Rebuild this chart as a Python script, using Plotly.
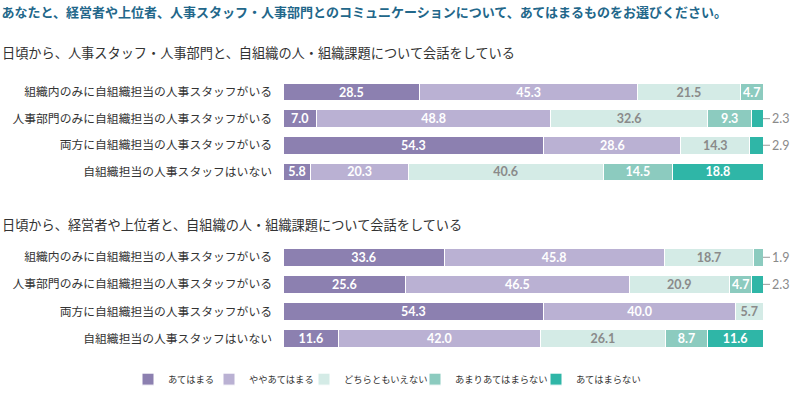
import plotly.graph_objects as go

title_text = "あなたと、経営者や上位者、人事スタッフ・人事部門とのコミュニケーションについて、あてはまるものをお選びください。"
group_titles = [
    "日頃から、人事スタッフ・人事部門と、自組織の人・組織課題について会話をしている",
    "日頃から、経営者や上位者と、自組織の人・組織課題について会話をしている",
]
categories = [
    "組織内のみに自組織担当の人事スタッフがいる",
    "人事部門のみに自組織担当の人事スタッフがいる",
    "両方に自組織担当の人事スタッフがいる",
    "自組織担当の人事スタッフはいない",
]
series_names = ["あてはまる", "ややあてはまる", "どちらともいえない", "あまりあてはまらない", "あてはまらない"]

# Group 1: HR staff / HR department
hr_agree = [28.5, 7.0, 54.3, 5.8]
hr_somewhat = [45.3, 48.8, 28.6, 20.3]
hr_neutral = [21.5, 32.6, 14.3, 40.6]
hr_not_much = [4.7, 9.3, 0.0, 14.5]
hr_disagree = [0.0, 2.3, 2.9, 18.8]

# Group 2: management / superiors
mg_agree = [33.6, 25.6, 54.3, 11.6]
mg_somewhat = [45.8, 46.5, 40.0, 42.0]
mg_neutral = [18.7, 20.9, 5.7, 26.1]
mg_not_much = [1.9, 4.7, 0.0, 8.7]
mg_disagree = [0.0, 2.3, 0.0, 11.6]

colors = ["#8c80b0", "#bab1d3", "#d4ebe6", "#8ccbbf", "#2fb6a7"]
text_colors = ["white", "white", "#8a8a8a", "white", "white"]

groups = [
    [hr_agree, hr_somewhat, hr_neutral, hr_not_much, hr_disagree],
    [mg_agree, mg_somewhat, mg_neutral, mg_not_much, mg_disagree],
]

FONT = "Noto Sans CJK JP"
NUM_FONT = "Lato"
W, H = 790, 394
INSIDE_MIN = 4.0

# legend swatch left edges (px) and vertical centre
legend_swatch_px = [144, 225, 320, 431, 552]
legend_y_px = 385

fig = go.Figure()
axis_ids = [("x", "y"), ("x2", "y2")]
legend_ids = ["legend", "legend2", "legend3", "legend4", "legend5"]

for gi, series in enumerate(groups):
    xa, ya = axis_ids[gi]
    for si, vals in enumerate(series):
        texts = [f"{v:.1f}" if v >= INSIDE_MIN else "" for v in vals]
        fig.add_trace(go.Bar(
            x=vals, y=categories, orientation="h",
            name=series_names[si],
            marker=dict(color=colors[si], line=dict(color="white", width=1)),
            text=texts, textposition="inside", insidetextanchor="middle",
            textangle=0,
            textfont=dict(family=NUM_FONT, size=12.5, color=text_colors[si], weight="bold"),
            xaxis=xa, yaxis=ya,
            showlegend=(gi == 0), legend=legend_ids[si], legendgroup=series_names[si],
            hoverinfo="skip",
        ))
    # outside labels for small trailing segments
    for ri in range(len(categories)):
        row = [s[ri] for s in series]
        total = sum(row)
        nz = [v for v in row if v > 0]
        last = nz[-1]
        if last < INSIDE_MIN:
            end = min(total, 100.0)
            fig.add_annotation(xref=xa, yref=ya, x=end, y=ri,
                               text=f"{last:.1f}", showarrow=True,
                               arrowhead=0, arrowwidth=1, arrowcolor="#9a9a9a",
                               ax=7, ay=0, standoff=0,
                               xanchor="left", yanchor="middle",
                               font=dict(family=NUM_FONT, size=12.5, color="#8a8a8a"))

x_dom = [283 / W, 763 / W]
g1_dom = [1 - 188.0 / H, 1 - 80.0 / H]
g2_dom = [1 - 357.5 / H, 1 - 247.5 / H]

axis_common_x = dict(range=[0, 100], showticklabels=False, showgrid=False,
                     zeroline=False, showline=False, fixedrange=True)
axis_common_y = dict(autorange="reversed", showgrid=False, zeroline=False,
                     showline=False, ticks="", ticklabelstandoff=10, fixedrange=True,
                     tickfont=dict(family=FONT, size=11.8, color="#333333"))

legend_layout = {}
for li, lid in enumerate(legend_ids):
    legend_layout[lid] = dict(
        orientation="h", x=(legend_swatch_px[li] - 16) / W, xanchor="left",
        y=1 - legend_y_px / H, yanchor="middle",
        font=dict(family=FONT, size=9.3, color="#333333"),
        itemwidth=30, bgcolor="rgba(0,0,0,0)",
    )

fig.update_layout(
    width=W, height=H, autosize=False,
    margin=dict(l=0, r=0, t=0, b=0),
    paper_bgcolor="white", plot_bgcolor="white",
    barmode="stack", bargap=0.34,
    font=dict(family=FONT, color="#333333"),
    xaxis=dict(domain=x_dom, anchor="y", **axis_common_x),
    yaxis=dict(domain=g1_dom, anchor="x", **axis_common_y),
    xaxis2=dict(domain=x_dom, anchor="y2", **axis_common_x),
    yaxis2=dict(domain=g2_dom, anchor="x2", **axis_common_y),
    uniformtext=dict(minsize=12, mode="show"),
    title=dict(text=title_text, x=0.002, xanchor="left", xref="paper",
               y=1 - 13 / H, yanchor="middle", yref="paper",
               font=dict(family=FONT, size=13, color="#22678a", weight="bold")),
    **legend_layout,
)

for gi, ypix in enumerate([53.5, 228]):
    fig.add_annotation(xref="paper", yref="paper", x=0.0, y=1 - ypix / H,
                       text=group_titles[gi], showarrow=False,
                       xanchor="left", yanchor="middle",
                       font=dict(family=FONT, size=13.2, color="#333333"))

fig.write_html(
    "out.html",
    config={"displayModeBar": False},
    post_script="document.body.style.margin='0';document.documentElement.style.overflow='hidden';",
)
